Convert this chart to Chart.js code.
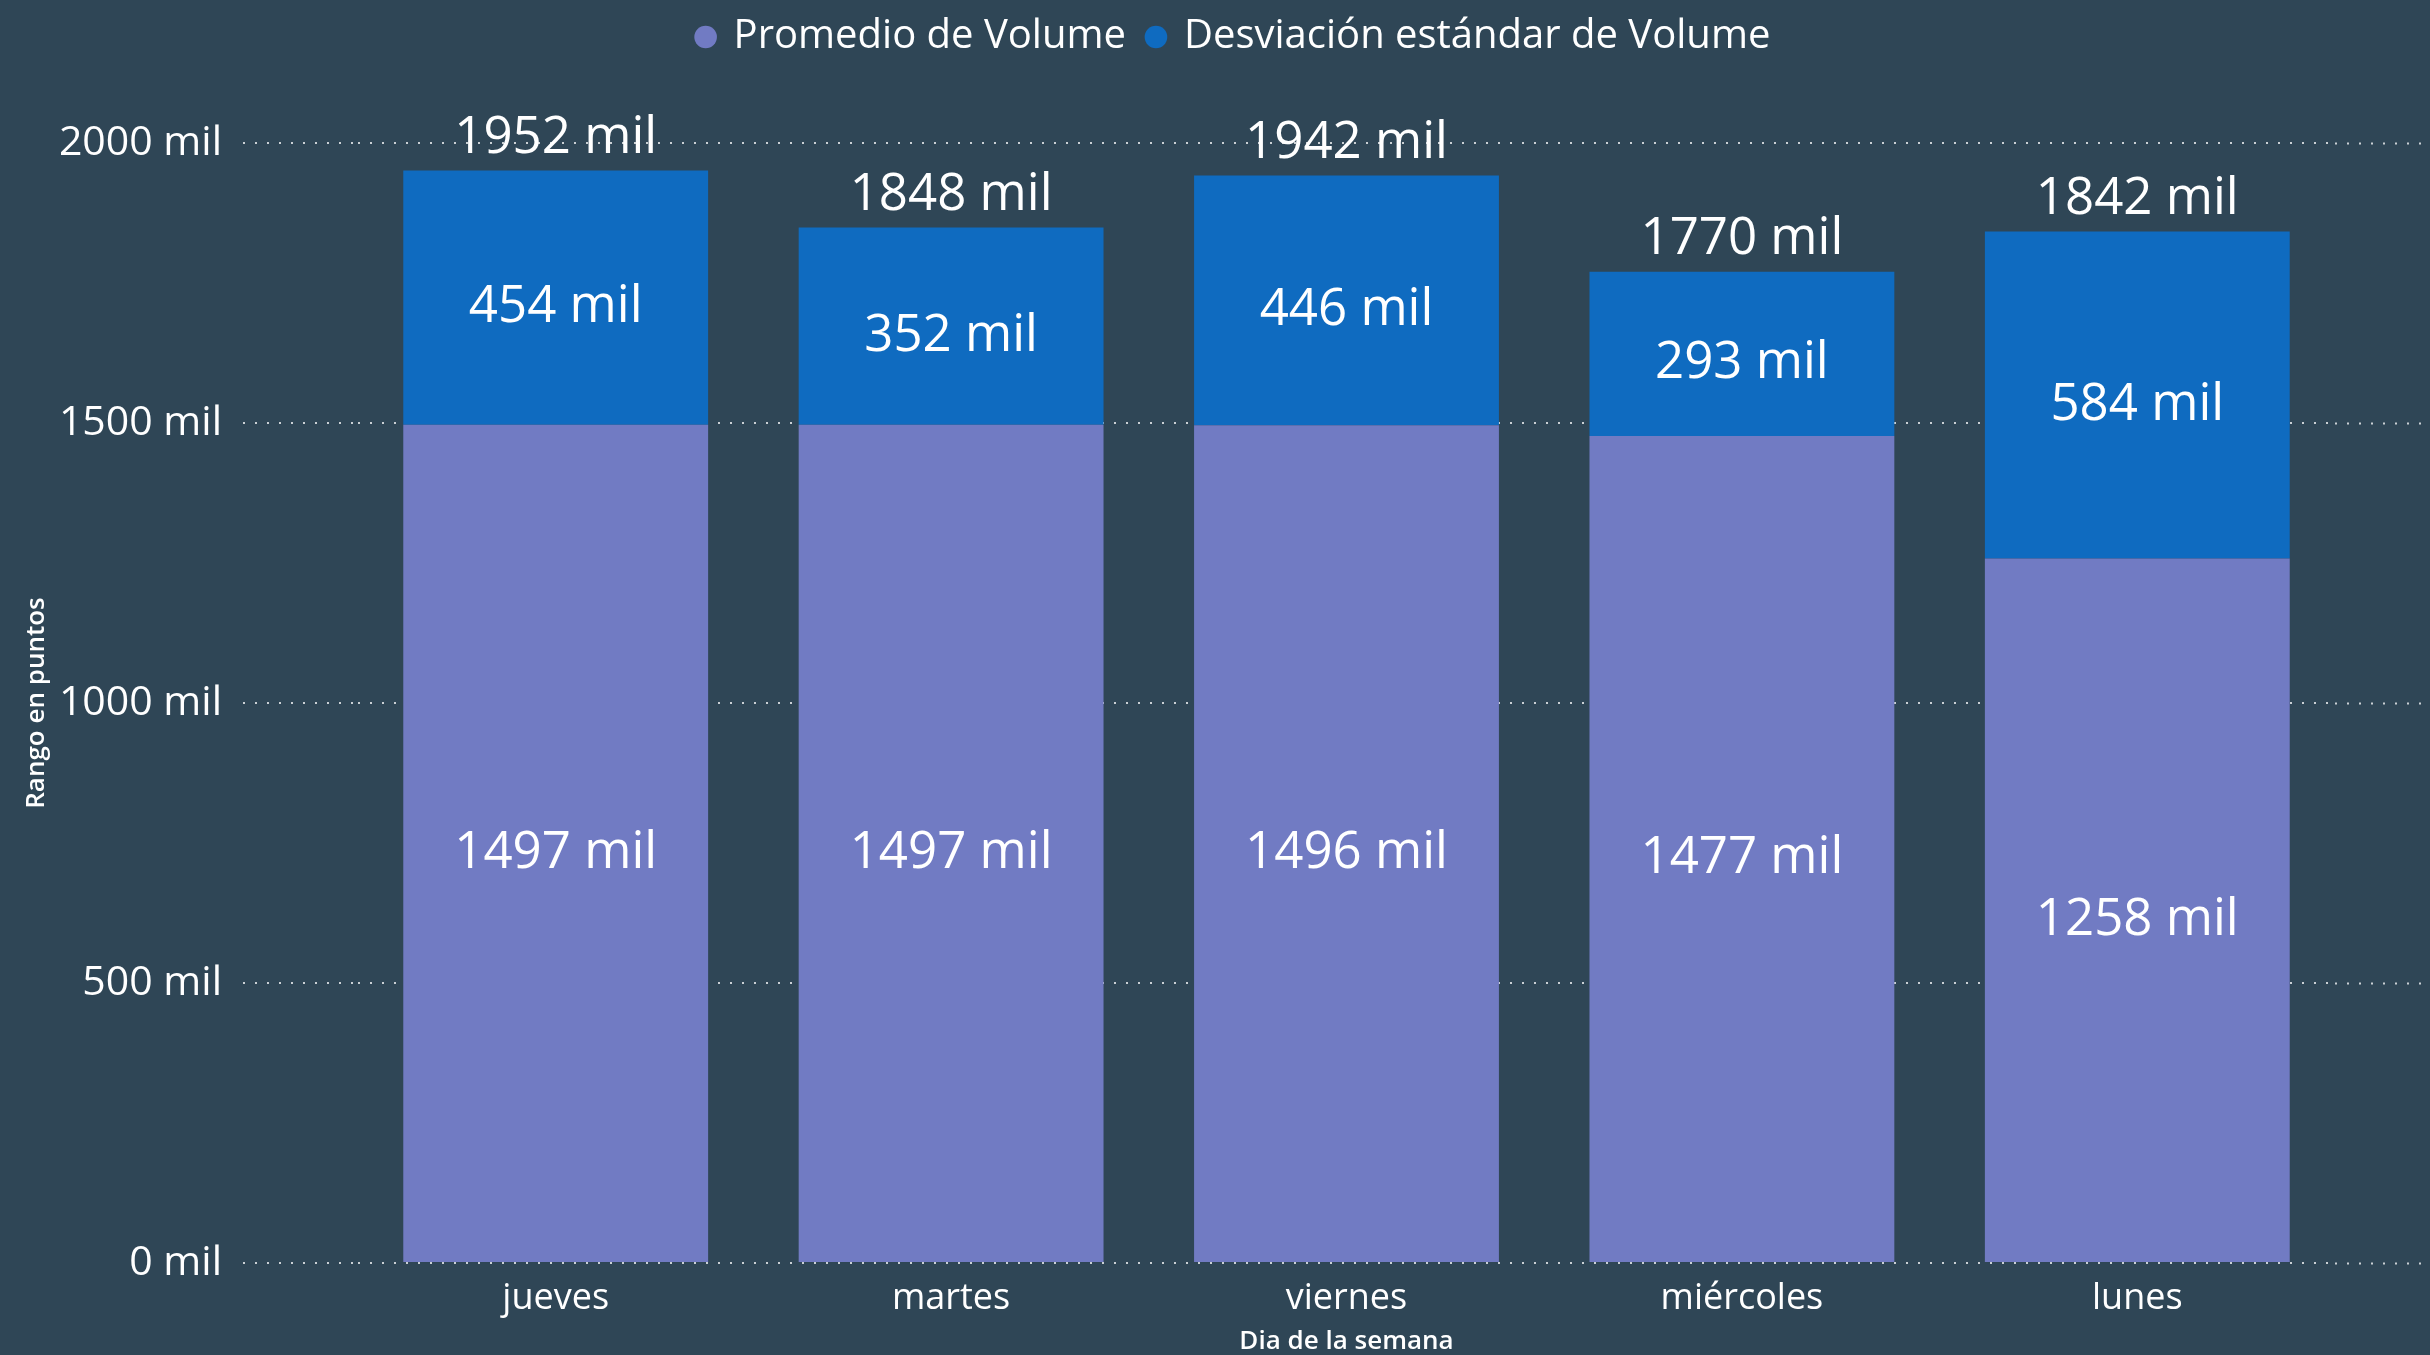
<!DOCTYPE html>
<html>
<head>
<meta charset="utf-8">
<title>Volume por dia de la semana</title>
<script src="https://cdn.jsdelivr.net/npm/chart.js@4.4.1/dist/chart.umd.min.js"></script>
<style>
  body { margin: 0; background: #2f4656; }
  canvas { display: block; }
</style>
</head>
<body>
<canvas id="volChart" width="2430" height="1355"></canvas>
<script>
const chartEl = document.getElementById('volChart')

// valores en miles
const dias = ['jueves', 'martes', 'viernes', 'miércoles', 'lunes']
const promedio = [1497, 1497, 1496, 1477, 1258]
const desviacion = [454, 352, 446, 293, 584]
const totales = [1952, 1848, 1942, 1770, 1842]
const yTicks = [0, 500, 1000, 1500, 2000]

const dotColor = 'rgba(255, 255, 255, 0.75)'
const fontFam = '"Open Sans", "Noto Sans", sans-serif'

// etiquetas de datos dentro de las barras y total arriba
const labelsPlugin = {
  id: 'labelsPlugin',
  afterDatasetsDraw(chart) {
    const ctx = chart.ctx
    ctx.save()
    ctx.fillStyle = '#ffffff'
    ctx.font = '51px ' + fontFam
    ctx.textAlign = 'center'
    ctx.textBaseline = 'middle'
    chart.data.datasets.forEach((ds, i) => {
      chart.getDatasetMeta(i).data.forEach((bar, j) => {
        ctx.fillText(ds.data[j] + ' mil', bar.x, (bar.y + bar.base) / 2 + 10)
      })
    })
    chart.getDatasetMeta(1).data.forEach((bar, j) => {
      ctx.fillText(totales[j] + ' mil', bar.x, bar.y - 32)
    })
    ctx.restore()
  }
}

// alto fijo de la leyenda y un poco corrida a la derecha
const legendBox = {
  id: 'legendBox',
  beforeLayout(chart) {
    const lg = chart.legend
    if (lg && !lg._fixed) {
      const fit = lg.fit
      lg.fit = function () {
        fit.call(this)
        this.height = 143
      }
      lg._fixed = true
    }
  },
  afterLayout(chart) {
    if (chart.legend) {
      chart.legend.left += 38
      chart.legend.top -= 5
    }
  }
}

const volChart = new Chart(chartEl, {
  type: 'bar',
  data: {
    labels: dias,
    datasets: [{
      label: 'Promedio de Volume',
      data: promedio,
      backgroundColor: '#717bc3',
      borderWidth: 0,
      barPercentage: 0.771,
      categoryPercentage: 1
    }, {
      label: 'Desviación estándar de Volume',
      data: desviacion,
      backgroundColor: '#0f6bc0',
      borderWidth: 0,
      barPercentage: 0.771,
      categoryPercentage: 1
    }]
  },
  options: {
    responsive: false,
    animation: false,
    devicePixelRatio: 1,
    layout: { padding: 0 },
    plugins: {
      legend: {
        position: 'top',
        labels: {
          color: '#ffffff',
          font: { family: fontFam, size: 40 },
          usePointStyle: true,
          pointStyle: 'circle',
          boxWidth: 16,
          boxHeight: 16,
          padding: 22
        }
      },
      tooltip: { enabled: false }
    },
    scales: {
      x: {
        stacked: true,
        grid: { display: false, drawTicks: false },
        border: { display: false },
        ticks: { color: '#ffffff', font: { family: fontFam, size: 36 }, padding: 14 },
        title: {
          display: true,
          text: 'Dia de la semana',
          color: '#ffffff',
          font: { family: fontFam, size: 26, weight: '600', lineHeight: 1 },
          padding: 0
        },
        afterFit(s) { s.height = 92 }
      },
      y: {
        stacked: true,
        min: 0,
        max: 2000,
        afterBuildTicks(s) { s.ticks = yTicks.map(v => ({ value: v })) },
        ticks: {
          color: '#ffffff',
          font: { family: fontFam, size: 41 },
          padding: 21,
          callback: v => v + ' mil'
        },
        grid: {
          color: dotColor,
          lineWidth: 2,
          tickLength: 115,
          tickColor: dotColor,
          tickWidth: 2,
          tickBorderDash: [2, 10]
        },
        border: { display: false, dash: [2, 10] },
        title: {
          display: true,
          text: 'Rango en puntos',
          color: '#ffffff',
          font: { family: fontFam, size: 26, weight: '600' },
          padding: { top: 21, bottom: 0 }
        },
        afterFit(s) { s.width = 358 }
      },
      y2: {
        position: 'right',
        min: 0,
        max: 2000,
        afterBuildTicks(s) { s.ticks = yTicks.map(v => ({ value: v })) },
        ticks: { display: false },
        grid: {
          drawOnChartArea: false,
          tickLength: 90,
          tickColor: dotColor,
          tickWidth: 2,
          tickBorderDash: [2, 10]
        },
        border: { display: false },
        afterFit(s) { s.width = 95 }
      }
    }
  },
  plugins: [labelsPlugin, legendBox]
})
</script>
</body>
</html>
